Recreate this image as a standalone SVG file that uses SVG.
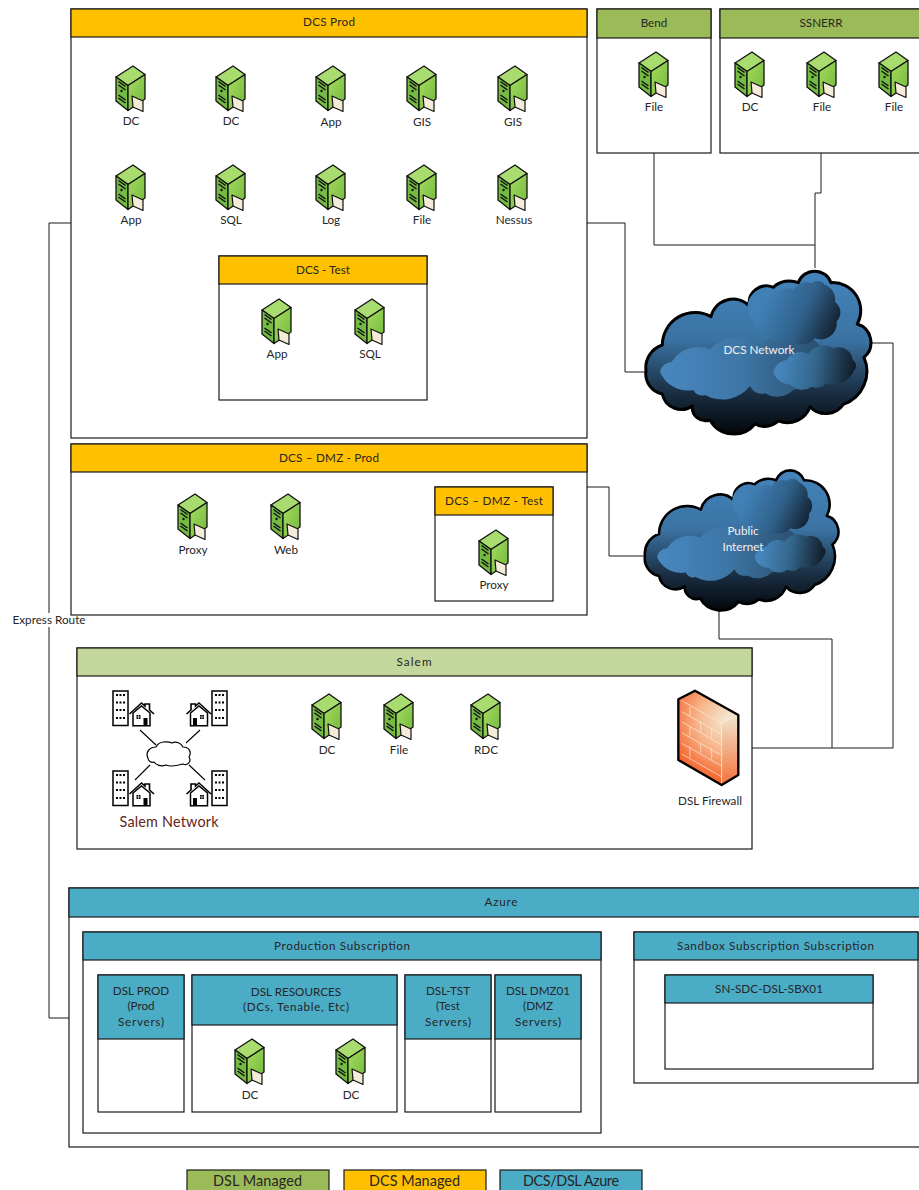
<svg xmlns="http://www.w3.org/2000/svg" xmlns:xlink="http://www.w3.org/1999/xlink" width="919" height="1190" viewBox="0 0 919 1190">
<style>
text{font-family:"Lato","Carlito","Open Sans",sans-serif;font-size:11.7px;fill:#262626;text-anchor:middle}
.box{fill:#fff;stroke:#1a1a1a;stroke-width:1.2}
.o{fill:#ffc000;stroke:#1a1a1a;stroke-width:1.2}
.g{fill:#9bbb59;stroke:#1a1a1a;stroke-width:1.2}
.lg{fill:#c3d69b;stroke:#1a1a1a;stroke-width:1.2}
.b{fill:#4bacc6;stroke:#1a1a1a;stroke-width:1.2}
.wire{fill:none;stroke:#1a1a1a;stroke-width:1}
.cl{fill:#f2f2f2}
.leg{font-size:14.4px}
.bl{fill:#fff;stroke:#000;stroke-width:1.5}
.brick{fill:none;stroke:#fbeedd;stroke-width:2}
</style>
<defs>
<linearGradient id="srvR" x1="0" y1="0" x2="1" y2="1"><stop offset="0" stop-color="#a5dc62"/><stop offset="1" stop-color="#72b83a"/></linearGradient>
<linearGradient id="cloudBody" x1="0" y1="0" x2="0" y2="1"><stop offset="0" stop-color="#4484bb"/><stop offset=".42" stop-color="#3b73a3"/><stop offset=".72" stop-color="#1c3349"/><stop offset="1" stop-color="#03060a"/></linearGradient>
<linearGradient id="c1" gradientUnits="userSpaceOnUse" x1="100" y1="350" x2="570" y2="350"><stop offset="0" stop-color="#4787bf"/><stop offset=".5" stop-color="#3e76a6"/><stop offset="1" stop-color="#2a5070"/></linearGradient>
<linearGradient id="c2" gradientUnits="userSpaceOnUse" x1="400" y1="160" x2="620" y2="265"><stop offset="0" stop-color="#4080b5"/><stop offset=".5" stop-color="#30618b"/><stop offset="1" stop-color="#101a26"/></linearGradient>
<linearGradient id="c3" gradientUnits="userSpaceOnUse" x1="450" y1="340" x2="675" y2="370"><stop offset="0" stop-color="#4686bd"/><stop offset=".45" stop-color="#34688f"/><stop offset="1" stop-color="#111a25"/></linearGradient>
<radialGradient id="fwF" gradientUnits="userSpaceOnUse" cx="205" cy="122" r="185"><stop offset="0" stop-color="#f2ecd6"/><stop offset=".5" stop-color="#f8b48a"/><stop offset="1" stop-color="#f4622a"/></radialGradient>
<linearGradient id="fwR" x1="0" y1="0" x2="0" y2="1"><stop offset="0" stop-color="#f2e6cc"/><stop offset="1" stop-color="#f4703a"/></linearGradient>
<g id="srv" stroke="#111" stroke-width="1.3" stroke-linejoin="round">
<path d="M0 11L17 0L29 8.500L12 19.500Z" fill="#a8dc6e"/>
<path d="M0 11L12 19.500V44.500L0 35Z" fill="#74bb42"/>
<path d="M12 19.500L29 8.500V33L12 44.500Z" fill="url(#srvR)"/>
<path d="M2.500 15.500L9.500 20.500M2.500 19L9.500 24M2.500 29L9.500 34M2.500 32L9.500 37" stroke-width="1.500" fill="none"/>
<circle cx="5.500" cy="25" r="1.200" fill="#111" stroke="none"/>
<path d="M16 30L27 35V45.500L17 41Z" fill="#f4ecd8" stroke-width="1.200"/>
</g>
<path id="cloud" d="M48 362A72 72 0 0 1 97 285A98 98 0 0 1 243 200A68 68 0 0 1 358 168A52 52 0 0 1 430 112A70 70 0 0 1 505 98A52 52 0 0 1 603 98A84 84 0 0 1 682 222A58 58 0 0 1 702 322A105 105 0 0 1 640 463A64 64 0 0 1 540 470A72 72 0 0 1 445 513A60 60 0 0 1 375 522A82 82 0 0 1 240 510A40 40 0 0 1 187 468A58 58 0 0 1 97 432A62 62 0 0 1 48 362Z"/>
<g id="cloudArt">
<use xlink:href="#cloud" href="#cloud" fill="url(#cloudBody)" stroke="#000" stroke-width="9" stroke-linejoin="round"/>
<path fill="url(#c1)" d="M90 365A38 38 0 0 1 125 335A95 95 0 0 1 240 298A105 105 0 0 1 390 290A120 120 0 0 1 573 290A105 105 0 0 1 490 420A70 70 0 0 1 405 430A38 38 0 0 1 360 408A105 105 0 0 1 225 435A28 28 0 0 1 190 420A90 90 0 0 1 90 365Z"/>
<path fill="url(#c2)" d="M372 215A58 58 0 0 1 445 125A38 38 0 0 1 490 120A45 45 0 0 1 545 100A26 26 0 0 1 585 105A45 45 0 0 1 615 155A40 40 0 0 1 620 215A48 48 0 0 1 555 265A60 60 0 0 1 480 275A45 45 0 0 1 420 262A62 62 0 0 1 372 215Z"/>
<path fill="url(#c3)" d="M430 367A45 45 0 0 1 470 330A48 48 0 0 1 535 312A55 55 0 0 1 610 295A42 42 0 0 1 668 330A20 20 0 0 1 672 362A68 68 0 0 1 590 400A40 40 0 0 1 545 410A48 48 0 0 1 480 403A52 52 0 0 1 430 367Z"/>
</g>
<g id="bldg">
<rect class="bl" x="0" y="0" width="15" height="34.500"/>
<path d="M3 4h2M6.500 4h2M10 4h2M3 11.500h2M6.500 11.500h2M10 11.500h2M3 19h2M6.500 19h2M10 19h2M3 27h2M6.500 27h2M10 27h2" stroke="#000" stroke-width="2" fill="none"/>
</g>
<g id="house">
<path d="M0 11L12 0L15.500 3V1H20V7L24.500 11" fill="#fff" stroke="#000" stroke-width="1.600" stroke-linejoin="miter"/>
<path d="M3.500 10L12 3L20.500 10V22.800H3.500Z" fill="#fff" stroke="#000" stroke-width="1.500"/>
<rect x="14" y="15" width="4" height="7.800" fill="#000"/>
<rect x="7" y="12" width="4" height="4" fill="#000"/>
<path d="M9 12V16M7 14H11" stroke="#fff" stroke-width=".6"/>
</g>
</defs>

<g id="connectors">
<path class="wire" d="M654 153V245H815V268"/>
<path class="wire" d="M821 153V193H815V245"/>
<path class="wire" d="M587 223H625V372H647"/>
<path class="wire" d="M872 343H893V748H752"/>
<path class="wire" d="M587 487H609V556H646"/>
<path class="wire" d="M719 611V639H832V748"/>
<path class="wire" d="M71 223H49V1018H69"/>
<rect x="11" y="613" width="75" height="14" fill="#fff"/>
<text x="49" y="624" textLength="73">Express Route</text>
</g>

<g id="dcs-prod">
<rect class="box" x="71" y="9" width="516" height="429"/><rect class="o" x="71" y="9" width="516" height="28"/>
<text x="329" y="26" textLength="52">DCS Prod</text>
</g>
<g id="dcs-test">
<rect class="box" x="219" y="256" width="208" height="144"/><rect class="o" x="219" y="256" width="208" height="28"/>
<text x="323" y="274">DCS - Test</text>
</g>
<g id="dcs-prod-servers">
<use href="#srv" x="116" y="66"/><text x="131" y="125">DC</text>
<use href="#srv" x="216" y="66"/><text x="231" y="125">DC</text>
<use href="#srv" x="316" y="66"/><text x="331" y="126">App</text>
<use href="#srv" x="407" y="66"/><text x="422" y="126">GIS</text>
<use href="#srv" x="498" y="66"/><text x="513" y="126">GIS</text>
<use href="#srv" x="116" y="165"/><text x="131" y="224">App</text>
<use href="#srv" x="216" y="165"/><text x="231" y="224">SQL</text>
<use href="#srv" x="316" y="165"/><text x="331" y="224">Log</text>
<use href="#srv" x="407" y="165"/><text x="422" y="224">File</text>
<use href="#srv" x="498" y="165"/><text x="514" y="224">Nessus</text>
<use href="#srv" x="262" y="299"/><text x="277" y="358">App</text>
<use href="#srv" x="355" y="299"/><text x="370" y="358">SQL</text>
</g>
<g id="bend">
<rect class="box" x="597" y="9" width="114" height="144"/><rect class="g" x="597" y="9" width="114" height="29"/>
<text x="654" y="27">Bend</text>
<use href="#srv" x="639" y="52"/><text x="654" y="111">File</text>
</g>
<g id="ssnerr">
<rect class="box" x="720" y="9" width="210" height="144"/><rect class="g" x="720" y="9" width="210" height="29"/>
<text x="821" y="27">SSNERR</text>
<use href="#srv" x="735" y="52"/><text x="750" y="111">DC</text>
<use href="#srv" x="807" y="52"/><text x="822" y="111">File</text>
<use href="#srv" x="879" y="52"/><text x="894" y="111">File</text>
</g>
<g id="dcs-network">
<use href="#cloudArt" transform="translate(630 250) scale(.3333)"/>
<text class="cl" x="759" y="354">DCS Network</text>
</g>
<g id="dmz-prod">
<rect class="box" x="71" y="444" width="516" height="171"/><rect class="o" x="71" y="444" width="516" height="28"/>
<text x="329" y="462" textLength="100">DCS – DMZ - Prod</text>
<use href="#srv" x="178" y="494"/><text x="193" y="554">Proxy</text>
<use href="#srv" x="271" y="494"/><text x="286" y="554">Web</text>
</g>
<g id="dmz-test">
<rect class="box" x="435" y="487" width="118" height="114"/><rect class="o" x="435" y="487" width="118" height="28"/>
<text x="494" y="505" textLength="98">DCS – DMZ - Test</text>
<use href="#srv" x="479" y="530"/><text x="494" y="589">Proxy</text>
</g>
<g id="public-internet">
<use href="#cloudArt" transform="translate(631.200 452.200) scale(.2867)"/>
<text class="cl" x="743" y="535">Public</text>
<text class="cl" x="743" y="551">Internet</text>
</g>
<g id="salem">
<rect class="box" x="77" y="648" width="675" height="201"/><rect class="lg" x="77" y="648" width="675" height="28"/>
<text x="414" y="666" textLength="35">Salem</text>
<use href="#srv" x="312" y="694"/><text x="327" y="754">DC</text>
<use href="#srv" x="384" y="694"/><text x="399" y="754">File</text>
<use href="#srv" x="471" y="694"/><text x="486" y="754">RDC</text>
</g>
<g id="salem-network">
<use href="#bldg" x="113" y="691"/><use href="#house" x="129.500" y="703"/>
<use href="#bldg" x="212" y="691"/><use href="#house" transform="translate(211 703) scale(-1 1)"/>
<use href="#bldg" x="113" y="771"/><use href="#house" x="129.500" y="783"/>
<use href="#bldg" x="212" y="771"/><use href="#house" transform="translate(211 783) scale(-1 1)"/>
<path d="M140 730L156 745M200 730L186 743M150 765L135 780M189 765L205 780" stroke="#000" stroke-width="1.100" fill="none"/>
<path d="M148 758C145 752 150 747 156 747C159 741 167 741 172 743C176 741 181 743 183 747C189 747 192 752 189 757C192 762 187 766 183 764C176 766 170 767 166 765C161 767 156 765 154 762C151 763 148 761 148 758Z" fill="#fff" stroke="#000" stroke-width="1.200"/>
<text x="169" y="827" textLength="99" style="font-size:14.400px;fill:#632523">Salem Network</text>
</g>
<g id="dsl-firewall">
<g transform="translate(660 680) scale(.3333)">
<path d="M55 58L105 32L235 105L185 130V315L55 240Z" fill="url(#fwF)"/>
<path d="M185 130L235 105V285L185 315Z" fill="url(#fwR)"/>
<path class="brick" d="M65 62L185 130M65 95L185 163M65 125L185 195M65 158L185 226M65 190L185 258M65 222L185 290M90 80V109M122 125V155M155 143V175M90 140V170M122 190V218M155 205V238M90 200V232M185 130V315"/>
<path d="M55 58L105 32L235 105V285L185 315L55 240Z" fill="none" stroke="#000" stroke-width="7" stroke-linejoin="round"/>
</g>
<text x="710" y="805">DSL Firewall</text>
</g>
<g id="azure">
<rect class="box" x="69" y="888" width="870" height="259"/><rect class="b" x="69" y="888" width="870" height="29"/>
<text x="501" y="906" textLength="33">Azure</text>
</g>
<g id="production-subscription">
<rect class="box" x="83" y="932" width="518" height="201"/><rect class="b" x="83" y="932" width="518" height="28"/>
<text x="342" y="950" textLength="136">Production Subscription</text>
</g>
<g id="dsl-prod">
<rect class="box" x="98" y="975" width="86" height="137"/><rect class="b" x="98" y="975" width="86" height="64"/>
<text x="141" y="995">DSL PROD</text><text x="141" y="1010">(Prod</text><text x="141" y="1026" textLength="46">Servers)</text>
</g>
<g id="dsl-resources">
<rect class="box" x="192" y="975" width="205" height="137"/><rect class="b" x="192" y="975" width="205" height="50"/>
<text x="296" y="996">DSL RESOURCES</text><text x="296" y="1011" textLength="106">(DCs, Tenable, Etc)</text>
<use href="#srv" x="235" y="1039"/><text x="250" y="1099">DC</text>
<use href="#srv" x="336" y="1039"/><text x="351" y="1099">DC</text>
</g>
<g id="dsl-tst">
<rect class="box" x="405" y="975" width="86" height="137"/><rect class="b" x="405" y="975" width="86" height="64"/>
<text x="448" y="995">DSL-TST</text><text x="448" y="1010">(Test</text><text x="448" y="1026" textLength="46">Servers)</text>
</g>
<g id="dsl-dmz01">
<rect class="box" x="495" y="975" width="86" height="137"/><rect class="b" x="495" y="975" width="86" height="64"/>
<text x="538" y="995">DSL DMZ01</text><text x="538" y="1010">(DMZ</text><text x="538" y="1026" textLength="46">Servers)</text>
</g>
<g id="sandbox-subscription">
<rect class="box" x="634" y="932" width="284" height="151"/><rect class="b" x="634" y="932" width="284" height="28"/>
<text x="775.500" y="950" textLength="197">Sandbox Subscription Subscription</text>
</g>
<g id="sn-sdc-dsl-sbx01">
<rect class="box" x="665" y="975" width="208" height="94"/><rect class="b" x="665" y="975" width="208" height="28"/>
<text x="769" y="993" textLength="108">SN-SDC-DSL-SBX01</text>
</g>
<g id="legend-dsl"><rect class="g" x="187" y="1170" width="142" height="30"/><text class="leg" x="257.500" y="1186" textLength="89">DSL Managed</text></g>
<g id="legend-dcs"><rect class="o" x="344" y="1170" width="142" height="30"/><text class="leg" x="414.500" y="1186" textLength="91">DCS Managed</text></g>
<g id="legend-azure"><rect class="b" x="500" y="1170" width="142" height="30"/><text class="leg" x="571" y="1186" textLength="96">DCS/DSL Azure</text></g>
</svg>
